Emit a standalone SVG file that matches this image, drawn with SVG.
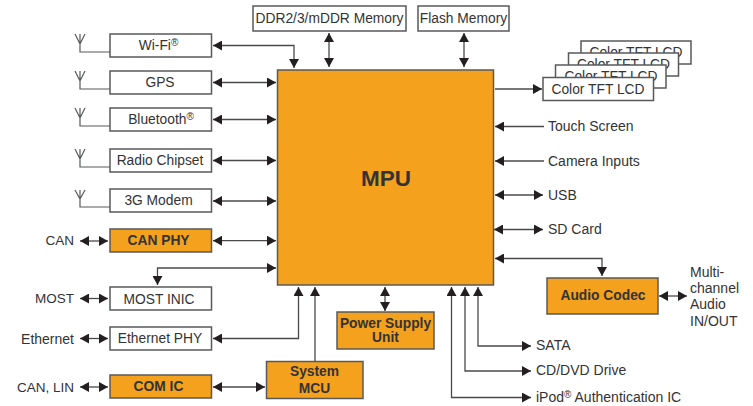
<svg xmlns="http://www.w3.org/2000/svg" width="753" height="406" viewBox="0 0 753 406">
<style>
text{font-family:"Liberation Sans",Arial,sans-serif;font-size:13.8px;fill:#333335;text-anchor:middle}
.l{text-anchor:start;font-size:14px}.r{text-anchor:end;font-size:13.5px}
.b{font-weight:bold}
.w{fill:#fff;stroke:#58595b;stroke-width:1.5}
.o{fill:#f4a11d;stroke:#58595b;stroke-width:1.5}
.c{fill:none;stroke:#4a4a4c;stroke-width:1.3}
.a{fill:none;stroke:#58595b;stroke-width:1.2}
.d{marker-start:url(#h);marker-end:url(#h)}
.e{marker-end:url(#h)}
</style>
<defs>
<marker id="h" viewBox="0 0 9 10" refX="9" refY="5" markerWidth="9" markerHeight="10" markerUnits="userSpaceOnUse" orient="auto-start-reverse"><path d="M0 0L9 5L0 10Z" fill="#231f20"/></marker>
</defs>
<g id="connectors">
<path class="c d" d="M213 45.500H294V68"/>
<path class="c d" d="M213 82.500H276"/>
<path class="c d" d="M213 119.500H276"/>
<path class="c d" d="M213 160.500H276"/>
<path class="c d" d="M213 201H276"/>
<path class="c d" d="M213 240.700H276"/>
<path class="c d" d="M276 268H157.500V285"/>
<path class="c d" d="M213 338.500H298.500V287"/>
<path class="c e" d="M315 361V287"/>
<path class="c d" d="M80 241H108"/>
<path class="c d" d="M80 298.500H108"/>
<path class="c d" d="M80 338.500H108"/>
<path class="c d" d="M80 387H108"/>
<path class="c d" d="M213 387H265"/>
<path class="c d" d="M329 33V67"/>
<path class="c d" d="M464 33V67"/>
<path class="c e" d="M495 89H542"/>
<path class="c e" d="M544 126.500H495"/>
<path class="c e" d="M544 161H495"/>
<path class="c d" d="M495 195H543"/>
<path class="c d" d="M494 229.500H543"/>
<path class="c d" d="M495 258.500H602V276"/>
<path class="c d" d="M659 296H687"/>
<path class="c d" d="M385 287V311"/>
<path class="c d" d="M478 287V346H531"/>
<path class="c d" d="M465 287V371H531"/>
<path class="c d" d="M451.500 287V397.500H531"/>
<path class="a" d="M75 34L80 44L85 34M80 34V52H110"/>
<path class="a" d="M75 71L80 81L85 71M80 71V89H110"/>
<path class="a" d="M75 108L80 118L85 108M80 108V126H110"/>
<path class="a" d="M75 149L80 159L85 149M80 149V167H110"/>
<path class="a" d="M75 190L80 199L85 190M80 190V207H110"/>
</g>
<g id="mpu"><rect class="o" x="277.500" y="70" width="216" height="215"/><text class="b" x="386" y="186" style="font-size:22.5px">MPU</text></g>
<g id="wifi"><rect class="w" x="110" y="34" width="101.500" height="23"/><text x="158.500" y="49.500">Wi-Fi<tspan font-size="10" dy="-4">®</tspan></text></g>
<g id="gps"><rect class="w" x="110" y="71" width="101.500" height="23"/><text x="160" y="87">GPS</text></g>
<g id="bluetooth"><rect class="w" x="110" y="108" width="101.500" height="23"/><text x="161" y="123.500">Bluetooth<tspan font-size="10" dy="-4">®</tspan></text></g>
<g id="radio"><rect class="w" x="110" y="149" width="101.500" height="23"/><text x="160" y="165">Radio Chipset</text></g>
<g id="modem"><rect class="w" x="110" y="189" width="101.500" height="23"/><text x="158.500" y="205">3G Modem</text></g>
<g id="canphy"><rect class="o" x="110" y="229" width="101.500" height="23"/><text class="b" x="158.500" y="245">CAN PHY</text></g>
<g id="mostinic"><rect class="w" x="110" y="287" width="101.500" height="23"/><text x="159" y="304">MOST INIC</text></g>
<g id="ethphy"><rect class="w" x="110" y="327" width="101.500" height="23"/><text x="160" y="343">Ethernet PHY</text></g>
<g id="comic"><rect class="o" x="110" y="375" width="101.500" height="23"/><text class="b" x="158.500" y="391">COM IC</text></g>
<g id="sysmcu"><rect class="o" x="266.500" y="361.500" width="96.500" height="37"/><text class="b" x="314.500" y="376">System</text><text class="b" x="314.500" y="393">MCU</text></g>
<g id="power"><rect class="o" x="337" y="312" width="97" height="37"/><text class="b" x="385.500" y="328">Power Supply</text><text class="b" x="385.500" y="342">Unit</text></g>
<g id="codec"><rect class="o" x="547" y="278" width="111" height="36"/><text class="b" x="603" y="300">Audio Codec</text></g>
<g id="ddr"><rect class="w" x="253" y="6" width="153" height="25"/><text x="329.500" y="23">DDR2/3/mDDR Memory</text></g>
<g id="flash"><rect class="w" x="418" y="6" width="91" height="25"/><text x="463.500" y="23">Flash Memory</text></g>
<g id="lcd4"><rect class="w" x="581" y="41" width="110" height="23"/><text x="636" y="57">Color TFT LCD</text></g>
<g id="lcd3"><rect class="w" x="568.500" y="53" width="110" height="23"/><text x="623.500" y="69">Color TFT LCD</text></g>
<g id="lcd2"><rect class="w" x="555.500" y="65" width="110.500" height="23"/><text x="611" y="81">Color TFT LCD</text></g>
<g id="lcd1"><rect class="w" x="543" y="77.500" width="110.500" height="23"/><text x="598" y="93.500">Color TFT LCD</text></g>
<g id="labels">
<text class="r" x="74" y="245">CAN</text>
<text class="r" x="74" y="303">MOST</text>
<text class="r" x="74" y="344" style="font-size:14px">Ethernet</text>
<text class="r" x="74" y="392">CAN, LIN</text>
<text class="l" x="548" y="131">Touch Screen</text>
<text class="l" x="548" y="166">Camera Inputs</text>
<text class="l" x="548" y="200">USB</text>
<text class="l" x="548" y="234">SD Card</text>
<text class="l" x="690" y="277">Multi-</text>
<text class="l" x="690" y="293">channel</text>
<text class="l" x="690" y="309">Audio</text>
<text class="l" x="690" y="326">IN/OUT</text>
<text class="l" x="536" y="350">SATA</text>
<text class="l" x="536" y="375">CD/DVD Drive</text>
<text class="l" x="536" y="402">iPod<tspan font-size="10" dy="-4">®</tspan><tspan dy="4"> Authentication IC</tspan></text>
</g>
</svg>
